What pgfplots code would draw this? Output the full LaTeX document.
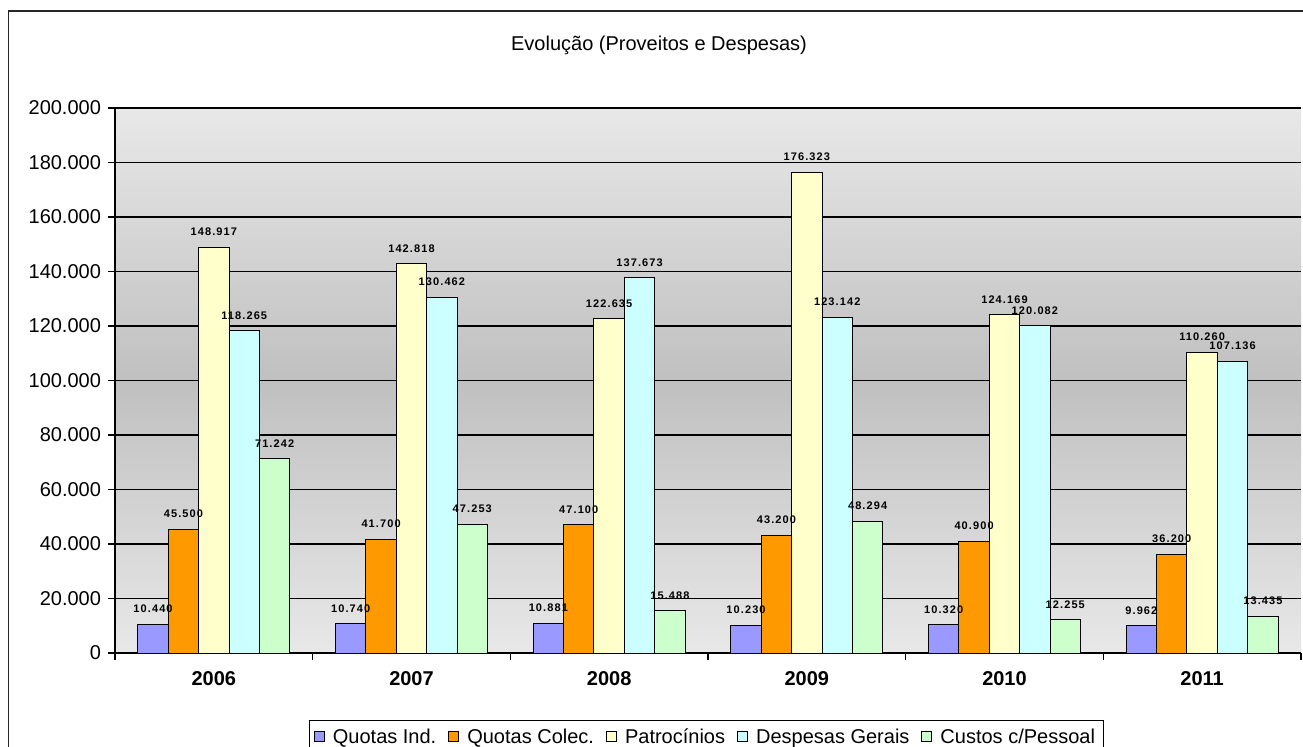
\documentclass[border=0pt]{standalone}
\usepackage{pgfplots}
\pgfplotsset{compat=1.18}
\usepackage{fontspec}
\setmainfont{Liberation Sans}
\newfontfamily\lblfont[LetterSpace=10]{Liberation Sans}
\definecolor{cQI}{RGB}{153,153,255}
\definecolor{cQC}{RGB}{255,153,0}
\definecolor{cPA}{RGB}{255,255,204}
\definecolor{cDG}{RGB}{204,255,255}
\definecolor{cCP}{RGB}{204,255,204}
\definecolor{bgLight}{RGB}{232,232,232}
\definecolor{bgDark}{RGB}{192,192,192}
\begin{document}
\begin{tikzpicture}
\useasboundingbox (0,0) rectangle (651.5pt,373pt);
\draw[line width=0.8pt, black!85] (4.2pt,-5pt) -- (4.2pt,367.5pt) -- (660pt,367.5pt);
\node[font=\fontsize{10}{12}\selectfont, anchor=base] at (329.5pt,347.8pt) {Evolução (Proveitos e Despesas)};
\begin{axis}[
  at={(57.5pt,46.5pt)}, anchor=south west,
  scale only axis, width=593pt, height=272.5pt,
  xmin=-0.5, xmax=5.5, ymin=0, ymax=200000,
  ybar=0pt, bar width=15.2pt,
  axis lines*=left,
  axis line style={black, line width=0.6pt},
  xtick={-0.5,0.5,...,5.5},
  x tick label as interval,
  xticklabels={2006,2007,2008,2009,2010,2011},
  ytick={0,20000,...,200000},
  scaled y ticks=false,
  ymajorgrids,
  grid style={black, line width=0.7pt},
  tick align=outside, major tick length=3.5pt,
  tick style={black, line width=0.6pt},
  /pgf/number format/assume math mode=true,
  yticklabel style={font=\fontsize{10}{12}\selectfont, /pgf/number format/.cd, fixed, 1000 sep={.}},
  xticklabel style={font=\bfseries\fontsize{10}{12}\selectfont, yshift=-2pt},
  axis background/.style={top color=bgLight, bottom color=bgLight, middle color=bgDark},
  every axis plot/.append style={draw=black, line width=0.5pt},
  nodes near coords={\pgfmathprintnumber[fixed,precision=0,1000 sep={.},assume math mode=true]{\pgfplotspointmeta}},
  every node near coord/.append style={font=\lblfont\bfseries\fontsize{5.5}{6}\selectfont, anchor=south, inner sep=0pt, yshift=5.5pt, black},
  legend style={at={(0.4987,-0.1229)}, anchor=north, legend columns=-1, draw=black, line width=0.5pt, fill=white,
    font=\fontsize{10}{12}\selectfont, inner xsep=2pt, inner ysep=2pt,
    /tikz/every odd column/.append style={column sep=2pt},
    /tikz/every even column/.append style={column sep=4pt}},
  legend image code/.code={\draw[#1, draw=black, line width=0.5pt] (0pt,-2.2pt) rectangle (5pt,2.8pt);},
]
\addplot[fill=cQI] coordinates {(0,10440) (1,10740) (2,10881) (3,10230) (4,10320) (5,9962)};
\addplot[fill=cQC] coordinates {(0,45500) (1,41700) (2,47100) (3,43200) (4,40900) (5,36200)};
\addplot[fill=cPA] coordinates {(0,148917) (1,142818) (2,122635) (3,176323) (4,124169) (5,110260)};
\addplot[fill=cDG] coordinates {(0,118265) (1,130462) (2,137673) (3,123142) (4,120082) (5,107136)};
\addplot[fill=cCP] coordinates {(0,71242) (1,47253) (2,15488) (3,48294) (4,12255) (5,13435)};
\legend{Quotas Ind.,Quotas Colec.,Patrocínios,Despesas Gerais,Custos c/Pessoal}
\end{axis}
\end{tikzpicture}
\end{document}
